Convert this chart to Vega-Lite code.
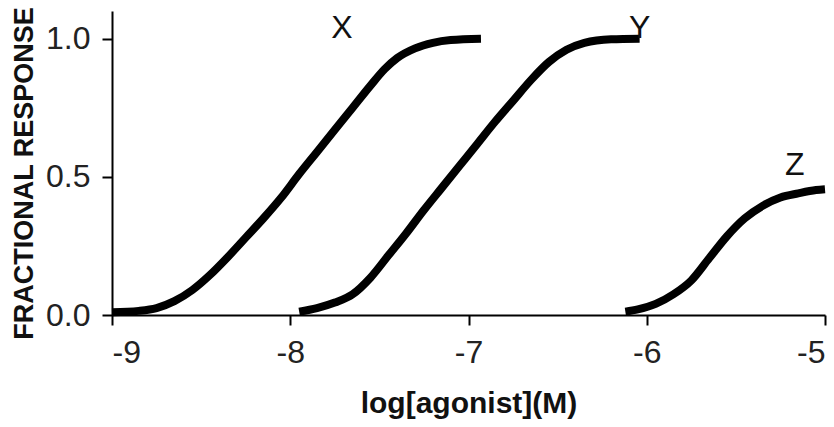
{
  "$schema": "https://vega.github.io/schema/vega-lite/v6.json",
  "width": 713,
  "height": 304,
  "autosize": {"type": "none"},
  "padding": {"left": 112, "top": 11, "right": 9, "bottom": 112},
  "background": "white",
  "config": {
    "view": {"stroke": null},
    "axis": {
      "grid": false,
      "domainColor": "black",
      "domainWidth": 2,
      "tickColor": "black",
      "tickWidth": 2,
      "tickSize": 10,
      "labelFont": "Liberation Sans",
      "labelColor": "#222",
      "titleFont": "Liberation Sans",
      "titleColor": "#111"
    }
  },
  "datasets": {
    "curves": [
      {"series": "X", "logc": -9.0, "resp": 0.01},
      {"series": "X", "logc": -8.85, "resp": 0.015},
      {"series": "X", "logc": -8.75, "resp": 0.025},
      {"series": "X", "logc": -8.65, "resp": 0.05},
      {"series": "X", "logc": -8.55, "resp": 0.09},
      {"series": "X", "logc": -8.45, "resp": 0.145},
      {"series": "X", "logc": -8.35, "resp": 0.21},
      {"series": "X", "logc": -8.25, "resp": 0.28},
      {"series": "X", "logc": -8.15, "resp": 0.35},
      {"series": "X", "logc": -8.05, "resp": 0.425},
      {"series": "X", "logc": -7.95, "resp": 0.51},
      {"series": "X", "logc": -7.85, "resp": 0.59},
      {"series": "X", "logc": -7.75, "resp": 0.67},
      {"series": "X", "logc": -7.65, "resp": 0.75},
      {"series": "X", "logc": -7.55, "resp": 0.83},
      {"series": "X", "logc": -7.47, "resp": 0.89},
      {"series": "X", "logc": -7.4, "resp": 0.93},
      {"series": "X", "logc": -7.3, "resp": 0.965},
      {"series": "X", "logc": -7.2, "resp": 0.985},
      {"series": "X", "logc": -7.1, "resp": 0.995},
      {"series": "X", "logc": -6.93, "resp": 1.0},
      {"series": "Y", "logc": -7.95, "resp": 0.012},
      {"series": "Y", "logc": -7.85, "resp": 0.025},
      {"series": "Y", "logc": -7.75, "resp": 0.045},
      {"series": "Y", "logc": -7.65, "resp": 0.075},
      {"series": "Y", "logc": -7.55, "resp": 0.135},
      {"series": "Y", "logc": -7.45, "resp": 0.215},
      {"series": "Y", "logc": -7.35, "resp": 0.295},
      {"series": "Y", "logc": -7.25, "resp": 0.38},
      {"series": "Y", "logc": -7.15, "resp": 0.46},
      {"series": "Y", "logc": -7.05, "resp": 0.54},
      {"series": "Y", "logc": -6.95, "resp": 0.62},
      {"series": "Y", "logc": -6.85, "resp": 0.7},
      {"series": "Y", "logc": -6.75, "resp": 0.775},
      {"series": "Y", "logc": -6.65, "resp": 0.85},
      {"series": "Y", "logc": -6.55, "resp": 0.915},
      {"series": "Y", "logc": -6.45, "resp": 0.96},
      {"series": "Y", "logc": -6.35, "resp": 0.985},
      {"series": "Y", "logc": -6.2, "resp": 0.998},
      {"series": "Y", "logc": -6.04, "resp": 1.0},
      {"series": "Z", "logc": -6.12, "resp": 0.012},
      {"series": "Z", "logc": -6.05, "resp": 0.02},
      {"series": "Z", "logc": -5.95, "resp": 0.04},
      {"series": "Z", "logc": -5.85, "resp": 0.075},
      {"series": "Z", "logc": -5.75, "resp": 0.125},
      {"series": "Z", "logc": -5.65, "resp": 0.205},
      {"series": "Z", "logc": -5.55, "resp": 0.285},
      {"series": "Z", "logc": -5.45, "resp": 0.35},
      {"series": "Z", "logc": -5.35, "resp": 0.395},
      {"series": "Z", "logc": -5.25, "resp": 0.425},
      {"series": "Z", "logc": -5.15, "resp": 0.44},
      {"series": "Z", "logc": -5.05, "resp": 0.452},
      {"series": "Z", "logc": -5.0, "resp": 0.455}
    ],
    "labels": [
      {"series": "X", "logc": -7.71, "resp": 1.04},
      {"series": "Y", "logc": -6.04, "resp": 1.04},
      {"series": "Z", "logc": -5.17, "resp": 0.543}
    ]
  },
  "encoding": {
    "x": {
      "field": "logc",
      "type": "quantitative",
      "scale": {"domain": [-9, -5], "nice": false, "zero": false},
      "axis": {
        "values": [-9, -8, -7, -6, -5],
        "labelExpr": "'-' + abs(datum.value)",
        "labelFontSize": 32,
        "labelPadding": 12,
        "title": "log[agonist](M)",
        "titleFontSize": 30,
        "titleFontWeight": "bold",
        "titleBaseline": "alphabetic",
        "titleY": 97
      }
    },
    "y": {
      "field": "resp",
      "type": "quantitative",
      "scale": {"domain": [0, 1.1], "nice": false},
      "axis": {
        "values": [0, 0.5, 1],
        "format": ".1f",
        "labelFontSize": 32,
        "labelPadding": 12,
        "title": "FRACTIONAL RESPONSE",
        "titleFontSize": 27,
        "titleFontWeight": "bold",
        "titleAngle": -90,
        "titleBaseline": "middle",
        "titleX": -88,
        "titleY": 162
      }
    }
  },
  "layer": [
    {
      "data": {"name": "curves"},
      "mark": {"type": "line", "color": "black", "strokeWidth": 8, "clip": false, "interpolate": "monotone"},
      "encoding": {"detail": {"field": "series"}}
    },
    {
      "data": {"name": "labels"},
      "mark": {"type": "text", "font": "Liberation Sans", "fontSize": 32, "fontWeight": 500, "color": "#111", "baseline": "middle", "align": "center"},
      "encoding": {"text": {"field": "series"}}
    }
  ]
}
